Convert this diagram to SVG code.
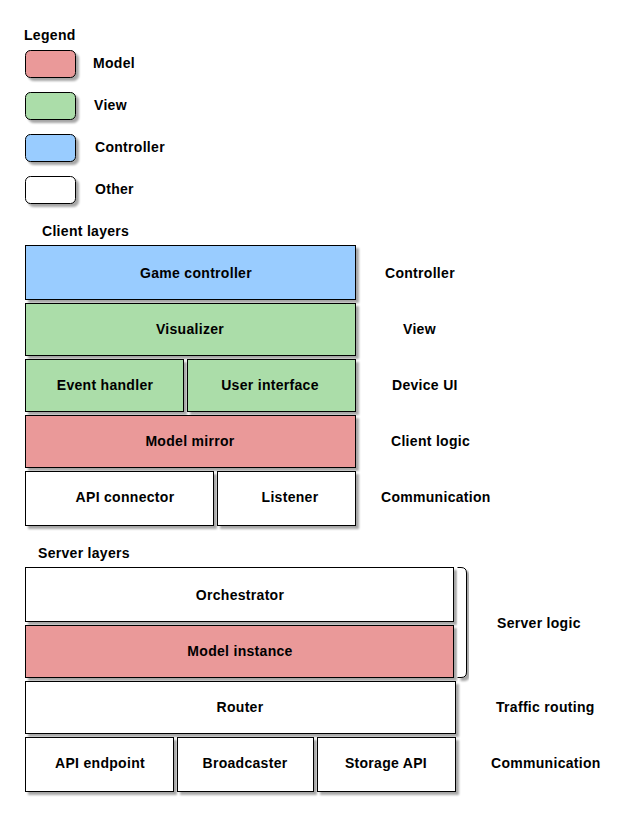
<svg xmlns="http://www.w3.org/2000/svg" width="640" height="826" viewBox="0 0 640 826">
<defs>
<filter id="sh" x="-10%" y="-10%" width="130%" height="140%">
<feGaussianBlur in="SourceAlpha" stdDeviation="1.2"/>
<feOffset dx="3" dy="3" result="b"/>
<feComponentTransfer><feFuncA type="linear" slope="0.35"/></feComponentTransfer>
<feMerge><feMergeNode/><feMergeNode in="SourceGraphic"/></feMerge>
</filter>
</defs>
<style>
text{font-family:"Liberation Sans",Arial,sans-serif;font-weight:bold;font-size:14px;letter-spacing:0.3px;fill:#000}
.c{text-anchor:middle}
rect{stroke:#000;stroke-width:1;filter:url(#sh)}
.m{fill:#EA9999}
.v{fill:#ABDDA9}
.k{fill:#99CCFF}
.o{fill:#FFFFFF}
</style>
<rect width="640" height="826" fill="#fff" style="stroke:none;filter:none"/>
<g id="legend">
<text x="24" y="40">Legend</text>
<g id="leg-model"><rect class="m" x="25.5" y="50.5" width="50" height="27" rx="5"/><text x="93" y="68">Model</text></g>
<g id="leg-view"><rect class="v" x="25.5" y="92.5" width="50" height="27" rx="5"/><text x="94" y="110">View</text></g>
<g id="leg-controller"><rect class="k" x="25.5" y="134.5" width="50" height="27" rx="5"/><text x="95" y="152">Controller</text></g>
<g id="leg-other"><rect class="o" x="25.5" y="176.5" width="50" height="27" rx="5"/><text x="95" y="194">Other</text></g>
</g>
<text x="42" y="236">Client layers</text>
<g id="game-controller"><rect class="k" x="25.5" y="245.5" width="330" height="54"/><text class="c" x="196" y="278">Game controller</text></g>
<g id="visualizer"><rect class="v" x="25.5" y="303.5" width="330" height="52"/><text class="c" x="190" y="334">Visualizer</text></g>
<g id="event-handler"><rect class="v" x="25.5" y="359.5" width="158" height="52"/><text class="c" x="105" y="390">Event handler</text></g>
<g id="user-interface"><rect class="v" x="187.5" y="359.5" width="168" height="52"/><text class="c" x="270" y="390">User interface</text></g>
<g id="model-mirror"><rect class="m" x="25.5" y="415.5" width="330" height="52"/><text class="c" x="190" y="446">Model mirror</text></g>
<g id="api-connector"><rect class="o" x="25.5" y="471.5" width="188" height="54"/><text class="c" x="125" y="502">API connector</text></g>
<g id="listener"><rect class="o" x="217.5" y="471.5" width="138" height="54"/><text class="c" x="290" y="502">Listener</text></g>
<g id="client-labels">
<text x="385" y="278">Controller</text>
<text x="403" y="334">View</text>
<text x="392" y="390">Device UI</text>
<text x="391" y="446">Client logic</text>
<text x="381" y="502">Communication</text>
</g>
<text x="38" y="558">Server layers</text>
<g id="orchestrator"><rect class="o" x="25.5" y="567.5" width="428" height="54"/><text class="c" x="240" y="600">Orchestrator</text></g>
<g id="model-instance"><rect class="m" x="25.5" y="625.5" width="428" height="52"/><text class="c" x="240" y="656">Model instance</text></g>
<g id="router"><rect class="o" x="25.5" y="681.5" width="430" height="52"/><text class="c" x="240" y="712">Router</text></g>
<g id="api-endpoint"><rect class="o" x="25.5" y="737.5" width="148" height="54"/><text class="c" x="100" y="768">API endpoint</text></g>
<g id="broadcaster"><rect class="o" x="177.5" y="737.5" width="136" height="54"/><text class="c" x="245" y="768">Broadcaster</text></g>
<g id="storage-api"><rect class="o" x="317.5" y="737.5" width="138" height="54"/><text class="c" x="386" y="768">Storage API</text></g>
<g id="server-logic-bracket">
<path d="M457.5,567.5 H461 Q466.5,567.5 466.5,573 V672 Q466.5,677.5 461,677.5 H457.5" fill="#fff" stroke="#000" stroke-width="1" filter="url(#sh)"/>
</g>
<g id="server-labels">
<text x="497" y="628">Server logic</text>
<text x="496" y="712">Traffic routing</text>
<text x="491" y="768">Communication</text>
</g>
<g id="connectors"></g>
</svg>
